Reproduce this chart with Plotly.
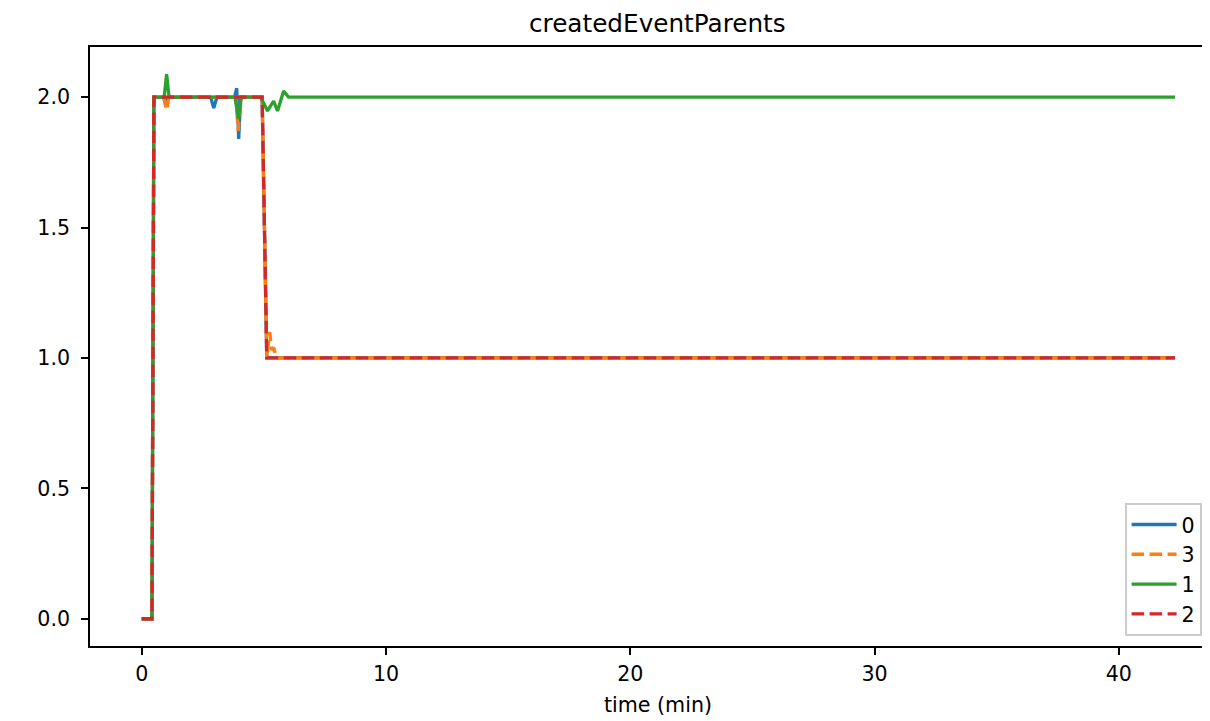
import plotly.graph_objects as go

# ---- data ----
t0 = [0, 0.42, 0.50, 0.90, 0.98, 1.08, 2.82, 2.95, 3.08, 3.80, 3.89, 3.97, 4.05, 4.93, 5.12, 42.3]
v0 = [0, 0, 2.0, 2.0, 1.97, 2.0, 2.0, 1.958, 2.0, 2.0, 2.034, 1.84, 2.0, 2.0, 1.0, 1.0]

t3 = [0, 0.42, 0.50, 0.90, 1.02, 1.12, 3.85, 3.95, 4.07, 4.93, 5.12, 5.24, 5.32, 5.40, 5.52, 42.3]
v3 = [0, 0, 2.0, 2.0, 1.95, 2.0, 2.0, 1.87, 2.0, 2.0, 1.0, 1.10, 1.03, 1.04, 1.0, 1.0]

t1 = [0, 0.42, 0.50, 0.92, 1.02, 1.12, 3.82, 3.96, 4.08, 4.87, 5.15, 5.40, 5.56, 5.81, 6.01, 42.3]
v1 = [0, 0, 2.0, 2.0, 2.088, 2.0, 2.0, 1.916, 2.0, 2.0, 1.947, 1.985, 1.947, 2.023, 2.0, 2.0]

t2 = [0, 0.42, 0.50, 4.93, 5.12, 42.3]
v2 = [0, 0, 2.0, 2.0, 1.0, 1.0]

series = [
    ("0", t0, v0, "#1f77b4", "solid"),
    ("3", t3, v3, "#ff7f0e", "12.5px,5.5px"),
    ("1", t1, v1, "#2ca02c", "solid"),
    ("2", t2, v2, "#d62728", "12.5px,5.5px"),
]

xticks = [0, 10, 20, 30, 40]
yticks = [0.0, 0.5, 1.0, 1.5, 2.0]

FONT = "DejaVu Sans"
OFF = 8  # page body margin offset
W, H = 1210 - OFF, 721 - OFF
# plot area in page pixels: left 90, right 1210, top 47, bottom 646
L, R, T, B = 90 - OFF, 0, 47 - OFF, 721 - 646
PW, PH = W - L - R, H - T - B

fig = go.Figure()
for name, t, v, c, dash in series:
    fig.add_trace(go.Scatter(x=t, y=v, mode="lines", name=name,
                             line=dict(color=c, width=3.3, dash=dash)))

fig.update_layout(
    width=W, height=H,
    margin=dict(l=L, r=R, t=T, b=B, autoexpand=False),
    paper_bgcolor="white", plot_bgcolor="white",
    font=dict(family=FONT, size=20.6, color="black"),
    showlegend=True,
    legend=dict(x=(1125 - 90) / PW, xanchor="left",
                y=(646 - 636) / PH, yanchor="bottom",
                bgcolor="rgba(255,255,255,0.8)", bordercolor="#cccccc", borderwidth=1.6,
                font=dict(family=FONT, size=20.6, color="black"),
                tracegroupgap=0, itemwidth=45),
    annotations=[
        dict(text="createdEventParents", x=(657.5 - 90) / PW, xref="paper", xanchor="center",
             y=1 + (47 - 24) / PH, yref="paper", yanchor="middle",
             showarrow=False, font=dict(family=FONT, size=24.7, color="black")),
        dict(text="time (min)", x=(657.5 - 90) / PW, xref="paper", xanchor="center",
             y=-(705 - 646) / PH, yref="paper", yanchor="middle",
             showarrow=False, font=dict(family=FONT, size=20.6, color="black")),
    ],
)

fig.update_xaxes(range=[-2.116, 43.73], tickvals=xticks, ticktext=[str(v) for v in xticks],
                 showgrid=False, zeroline=False, showline=True, linecolor="black", linewidth=1.65,
                 mirror=True, ticks="outside", ticklen=7, tickwidth=1.65, tickcolor="black",
                 ticklabelstandoff=1)
fig.update_yaxes(range=[-0.1044, 2.192], tickvals=yticks, ticktext=[f"{v:.1f}" for v in yticks],
                 showgrid=False, zeroline=False, showline=True, linecolor="black", linewidth=1.65,
                 mirror=False, ticks="outside", ticklen=7, tickwidth=1.65, tickcolor="black",
                 ticklabelstandoff=7)

fig.write_html("out.html")
